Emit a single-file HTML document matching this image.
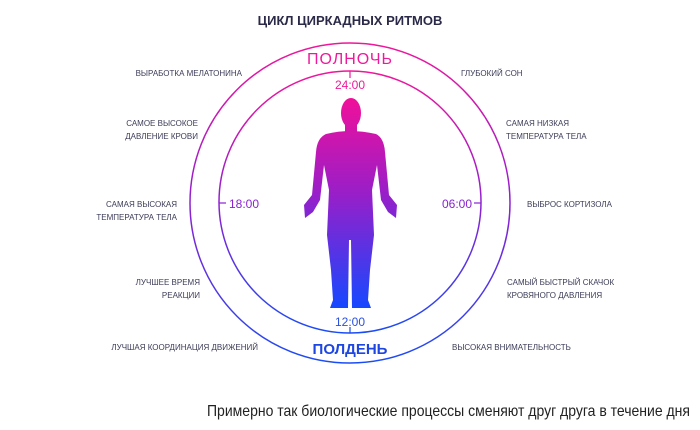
<!DOCTYPE html>
<html><head><meta charset="utf-8"><style>
html,body{margin:0;padding:0;background:#fff;}
svg{display:block}
text{font-family:"Liberation Sans",sans-serif}
.l{font-size:8px;fill:#3c3c58}
</style></head><body>
<svg width="700" height="430" viewBox="0 0 700 430">
<defs>
<linearGradient id="g" x1="0" y1="0" x2="0" y2="1">
<stop offset="0" stop-color="#f0169a"/><stop offset="0.5" stop-color="#9020d0"/><stop offset="1" stop-color="#1a4cf5"/>
</linearGradient>
<linearGradient id="gb" gradientUnits="userSpaceOnUse" x1="0" y1="98" x2="0" y2="308">
<stop offset="0" stop-color="#f0109a"/><stop offset="0.45" stop-color="#9a1ec8"/><stop offset="1" stop-color="#1648ff"/>
</linearGradient>
</defs>
<text x="350" y="25" text-anchor="middle" font-size="13" font-weight="bold" fill="#2a2a48">ЦИКЛ ЦИРКАДНЫХ РИТМОВ</text>
<circle cx="350" cy="203" r="160" fill="none" stroke="url(#g)" stroke-width="1.5"/>
<circle cx="350" cy="202" r="131" fill="none" stroke="url(#g)" stroke-width="1.5"/>
<line x1="350" y1="71" x2="350" y2="78" stroke="#ee1a9c" stroke-width="1.2"/>
<line x1="350" y1="327" x2="350" y2="333" stroke="#1e4ae8" stroke-width="1.2"/>
<line x1="219" y1="203" x2="226" y2="203" stroke="#8a22d0" stroke-width="1.2"/>
<line x1="474" y1="203" x2="481" y2="203" stroke="#8a22d0" stroke-width="1.2"/>
<text x="350" y="64" text-anchor="middle" font-size="16" fill="#ee1a9c" letter-spacing="1">ПОЛНОЧЬ</text>
<text x="350" y="89" text-anchor="middle" font-size="12" fill="#ee1a9c">24:00</text>
<text x="350" y="326" text-anchor="middle" font-size="12" fill="#2a50e0">12:00</text>
<text x="350" y="354" text-anchor="middle" font-size="15" fill="#1e46e0" font-weight="bold">ПОЛДЕНЬ</text>
<text x="229" y="208" font-size="12" fill="#8a22d0">18:00</text>
<text x="472" y="208" text-anchor="end" font-size="12" fill="#8a22d0">06:00</text>
<g fill="url(#gb)">
<ellipse cx="351" cy="113" rx="10" ry="15"/>
<rect x="345" y="122" width="12" height="14"/>
<path d="M326 134 Q350 128 376 134 Q384 138 385 152 L389 195 L397 205 L396 218 L388 212 L381 200 L377 165 L372 190 L374 235 L370 270 L368 300 L371 308 L352 308 L351 240 L349 240 L348 308 L330 308 L333 300 L331 270 L327 235 L329 190 L324 165 L320 200 L313 212 L305 218 L304 205 L312 195 L316 152 Q317 138 326 134Z"/>
</g>
<g class="l">
<text x="242" y="76" text-anchor="end">ВЫРАБОТКА МЕЛАТОНИНА</text>
<text x="198" y="126" text-anchor="end">САМОЕ ВЫСОКОЕ</text>
<text x="198" y="139" text-anchor="end">ДАВЛЕНИЕ КРОВИ</text>
<text x="177" y="207" text-anchor="end">САМАЯ ВЫСОКАЯ</text>
<text x="177" y="220" text-anchor="end">ТЕМПЕРАТУРА ТЕЛА</text>
<text x="200" y="285" text-anchor="end">ЛУЧШЕЕ ВРЕМЯ</text>
<text x="200" y="298" text-anchor="end">РЕАКЦИИ</text>
<text x="258" y="350" text-anchor="end">ЛУЧШАЯ КООРДИНАЦИЯ ДВИЖЕНИЙ</text>
<text x="461" y="76">ГЛУБОКИЙ СОН</text>
<text x="506" y="126">САМАЯ НИЗКАЯ</text>
<text x="506" y="139">ТЕМПЕРАТУРА ТЕЛА</text>
<text x="527" y="207">ВЫБРОС КОРТИЗОЛА</text>
<text x="507" y="285">САМЫЙ БЫСТРЫЙ СКАЧОК</text>
<text x="507" y="298">КРОВЯНОГО ДАВЛЕНИЯ</text>
<text x="452" y="350">ВЫСОКАЯ ВНИМАТЕЛЬНОСТЬ</text>
</g>
<text x="207" y="416" font-size="16" fill="#222" textLength="483" lengthAdjust="spacingAndGlyphs">Примерно так биологические процессы сменяют друг друга в течение дня</text>
</svg>
</body></html>
